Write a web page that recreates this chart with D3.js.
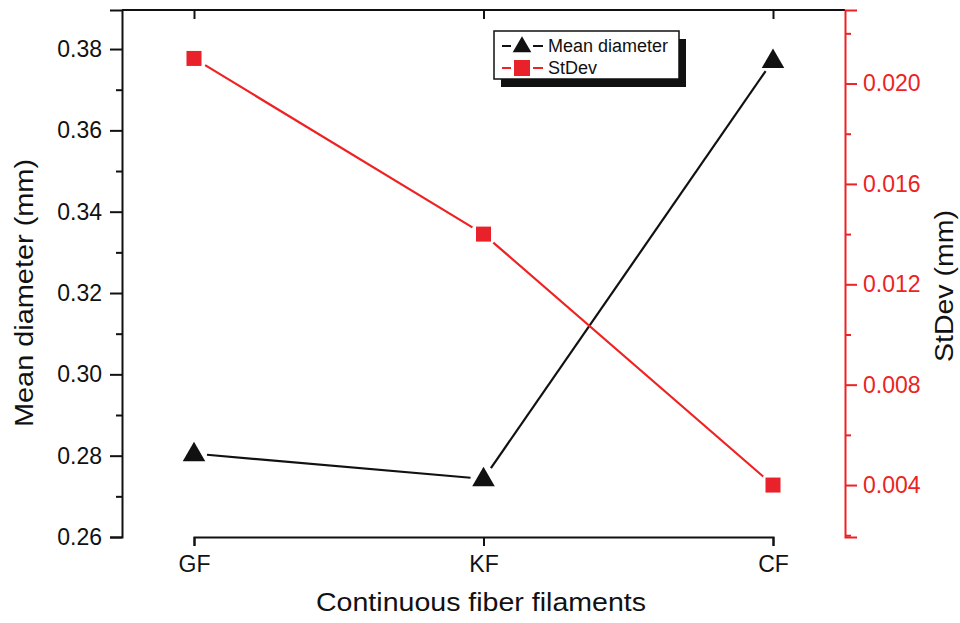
<!DOCTYPE html>
<html>
<head>
<meta charset="utf-8">
<script src="https://cdn.jsdelivr.net/npm/d3@7"></script>
<style>
body { margin: 0; background: white; }
text { font-family: "Liberation Sans", Arial, sans-serif; }
</style>
</head>
<body>
<div id="chart"></div>
<script>
// data
const categories = ["GF", "KF", "CF"];
const meanDiameter = [0.2805, 0.2743, 0.3772];
const stDev = [0.0210, 0.0140, 0.0040];
const leftTicks = [0.26, 0.28, 0.30, 0.32, 0.34, 0.36, 0.38];
const rightTicks = [0.004, 0.008, 0.012, 0.016, 0.020];

const width = 960, height = 623;
const margin = {top: 10, right: 115, bottom: 86, left: 122};
const plotW = width - margin.left - margin.right,
    plotH = height - margin.top - margin.bottom;

const svg = d3.select("#chart")
    .append("svg")
    .attr("width", width)
    .attr("height", height);

const g = svg.append("g")
    .attr("transform", `translate(${margin.left},${margin.top})`);

const x = d3.scalePoint()
    .domain(categories)
    .range([72, plotW - 72]);

const yLeft = d3.scaleLinear()
    .domain([0.26, 0.3896])
    .range([plotH, 0]);

const yRight = d3.scaleLinear()
    .domain([0.00193, 0.02293])
    .range([plotH, 0]);

// frame top
g.append("line").attr("x1", 0).attr("x2", plotW).attr("y1", 0).attr("y2", 0)
    .attr("stroke", "#111").attr("stroke-width", 2);

// bottom axis
const xAxis = g.append("g")
    .attr("transform", `translate(0,${plotH})`)
    .call(d3.axisBottom(x).tickSize(9).tickPadding(10));
xAxis.select(".domain").attr("stroke", "#111").attr("stroke-width", 2);
xAxis.selectAll(".tick line").attr("stroke", "#111").attr("stroke-width", 2);
xAxis.selectAll(".tick text").attr("font-size", 23).attr("fill", "#111");

// top ticks pointing in
g.append("g")
    .call(d3.axisTop(x).tickSize(-9).tickFormat(""))
    .call(a => a.select(".domain").remove())
    .selectAll(".tick line").attr("stroke", "#111").attr("stroke-width", 2);

// left axis with minor ticks
g.append("g")
    .call(d3.axisLeft(yLeft).tickValues(d3.range(0.27, 0.39, 0.02)).tickSize(6).tickFormat(""))
    .call(a => a.select(".domain").remove())
    .selectAll(".tick line").attr("stroke", "#111").attr("stroke-width", 2);
const leftAxis = g.append("g")
    .call(d3.axisLeft(yLeft).tickValues(leftTicks).tickSize(12).tickPadding(8).tickFormat(d3.format(".2f")));
leftAxis.select(".domain").attr("stroke", "#111").attr("stroke-width", 2);
leftAxis.selectAll(".tick line").attr("stroke", "#111").attr("stroke-width", 2);
leftAxis.selectAll(".tick text").attr("font-size", 23).attr("fill", "#111");

// right axis with minor ticks
const red = "#ee2222";
g.append("g")
    .attr("transform", `translate(${plotW},0)`)
    .call(d3.axisRight(yRight).tickValues([0.002, 0.006, 0.010, 0.014, 0.018, 0.022]).tickSize(6).tickFormat(""))
    .call(a => a.select(".domain").remove())
    .selectAll(".tick line").attr("stroke", red).attr("stroke-width", 2);
const rightAxis = g.append("g")
    .attr("transform", `translate(${plotW},0)`)
    .call(d3.axisRight(yRight).tickValues(rightTicks).tickSize(12).tickPadding(6).tickFormat(d3.format(".3f")));
rightAxis.select(".domain").attr("stroke", red).attr("stroke-width", 2);
rightAxis.selectAll(".tick line").attr("stroke", red).attr("stroke-width", 2);
rightAxis.selectAll(".tick text").attr("font-size", 23).attr("fill", red);

// axis titles
svg.append("text")
    .attr("x", 481)
    .attr("y", 611)
    .attr("text-anchor", "middle")
    .attr("font-size", 26)
    .attr("textLength", 330)
    .attr("lengthAdjust", "spacingAndGlyphs")
    .attr("fill", "#111")
    .text("Continuous fiber filaments");

svg.append("text")
    .attr("transform", "translate(33,293) rotate(-90)")
    .attr("text-anchor", "middle")
    .attr("font-size", 26)
    .attr("textLength", 268)
    .attr("lengthAdjust", "spacingAndGlyphs")
    .attr("fill", "#111")
    .text("Mean diameter (mm)");

svg.append("text")
    .attr("transform", "translate(953,286) rotate(-90)")
    .attr("text-anchor", "middle")
    .attr("font-size", 26)
    .attr("textLength", 152)
    .attr("lengthAdjust", "spacingAndGlyphs")
    .attr("fill", "#111")
    .text("StDev (mm)");

// lines with a gap near markers
function gappedSegments(values, yScale, gap) {
    const pts = values.map((v, i) => [x(categories[i]), yScale(v)]);
    const segs = [];
    for (let i = 0; i < pts.length - 1; i++) {
        const [x1, y1] = pts[i], [x2, y2] = pts[i + 1];
        const len = Math.hypot(x2 - x1, y2 - y1);
        const ux = (x2 - x1) / len, uy = (y2 - y1) / len;
        segs.push([x1 + ux * gap, y1 + uy * gap, x2 - ux * gap, y2 - uy * gap]);
    }
    return segs;
}

g.selectAll(".meanline")
    .data(gappedSegments(meanDiameter, yLeft, 13))
    .enter()
    .append("line")
    .attr("x1", d => d[0]).attr("y1", d => d[1])
    .attr("x2", d => d[2]).attr("y2", d => d[3])
    .attr("stroke", "#111").attr("stroke-width", 2.2);

g.selectAll(".sdline")
    .data(gappedSegments(stDev, yRight, 13))
    .enter()
    .append("line")
    .attr("x1", d => d[0]).attr("y1", d => d[1])
    .attr("x2", d => d[2]).attr("y2", d => d[3])
    .attr("stroke", red).attr("stroke-width", 2.2);

const tri = d3.symbol().type(d3.symbolTriangle).size(220);

g.selectAll(".meanpt")
    .data(meanDiameter)
    .enter()
    .append("path")
    .attr("d", tri)
    .attr("transform", (d, i) => `translate(${x(categories[i])},${yLeft(d) + 1})`)
    .attr("fill", "#111");

g.selectAll(".sdpt")
    .data(stDev)
    .enter()
    .append("rect")
    .attr("x", (d, i) => x(categories[i]) - 7.5)
    .attr("y", d => yRight(d) - 7.5)
    .attr("width", 15).attr("height", 15)
    .attr("fill", "#e8212a");

// legend
const lg = svg.append("g").attr("transform", "translate(494,31)");
lg.append("rect").attr("x", 7).attr("y", 8).attr("width", 185).attr("height", 48).attr("fill", "#111");
lg.append("rect").attr("x", 0).attr("y", 0).attr("width", 185).attr("height", 48)
    .attr("fill", "white").attr("stroke", "#111").attr("stroke-width", 1.5);

const legendItems = [
    {label: "Mean diameter", color: "#111", shape: "tri"},
    {label: "StDev", color: red, shape: "sq"}
];
legendItems.forEach((item, i) => {
    const yy = 15 + i * 22;
    lg.append("line").attr("x1", 8).attr("x2", 17).attr("y1", yy).attr("y2", yy)
        .attr("stroke", item.color).attr("stroke-width", 2);
    lg.append("line").attr("x1", 39).attr("x2", 49).attr("y1", yy).attr("y2", yy)
        .attr("stroke", item.color).attr("stroke-width", 2);
    if (item.shape === "tri") {
        lg.append("path").attr("d", d3.symbol().type(d3.symbolTriangle).size(150))
            .attr("transform", `translate(28,${yy + 1})`).attr("fill", item.color);
    } else {
        lg.append("rect").attr("x", 20).attr("y", yy - 8).attr("width", 16).attr("height", 16)
            .attr("fill", "#e8212a");
    }
    lg.append("text").attr("x", 54).attr("y", yy + 6)
        .attr("font-size", 18).attr("fill", "#111").text(item.label);
});
</script>
</body>
</html>
